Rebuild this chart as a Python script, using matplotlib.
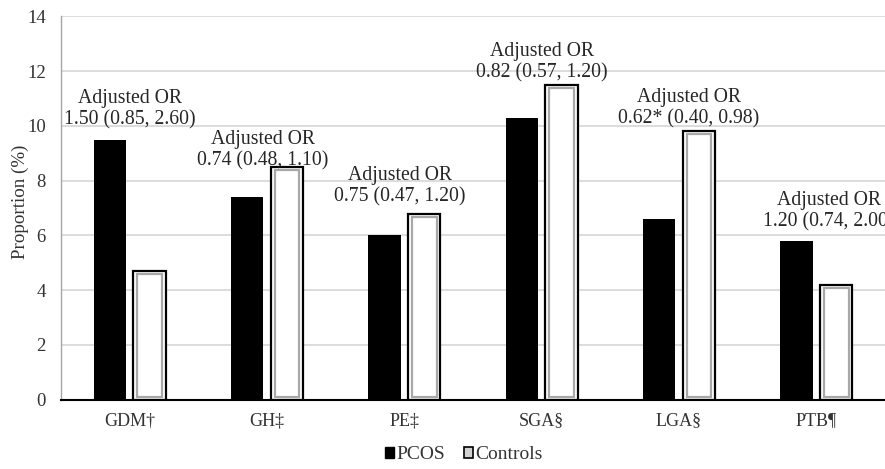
import matplotlib
matplotlib.use("Agg")
import matplotlib.pyplot as plt
from matplotlib.patches import Patch
import numpy as np

categories = ["GDM\u2020", "GH\u2021", "PE\u2021", "SGA\u00a7", "LGA\u00a7", "PTB\u00b6"]
pcos = [9.5, 7.4, 6.0, 10.3, 6.6, 5.8]
controls = [4.7, 8.5, 6.8, 11.5, 9.8, 4.2]
or_labels = [
    "1.50 (0.85, 2.60)",
    "0.74 (0.48, 1.10)",
    "0.75 (0.47, 1.20)",
    "0.82 (0.57, 1.20)",
    "0.62* (0.40, 0.98)",
    "1.20 (0.74, 2.00)",
]
y_ticks = [0, 2, 4, 6, 8, 10, 12, 14]

# annotation placement (layout, not data)
ann_x = [0.0, 0.97, 1.97, 3.0, 4.07, 5.09]
ann_y = [10.6, 9.1, 7.8, 12.32, 10.65, 6.89]

plt.rcParams["font.family"] = ["Liberation Serif", "DejaVu Serif"]

fig = plt.figure(figsize=(8.85, 4.69), dpi=100)
ax = fig.add_axes([61 / 885, 69.4 / 469, 824 / 885, 383.1 / 469])

x = np.arange(len(categories))
w = 0.235
off = 0.145

ax.bar(x - off, pcos, width=w, color="black", edgecolor="none", zorder=3)
ax.bar(x + off, controls, width=w, color="white", edgecolor="black",
       linewidth=1.6, zorder=3)
# bevel effect inside controls bars
ix, iy = 0.028, 0.11
ctrl = np.array(controls)
ax.bar(x + off, ctrl - 2 * iy, bottom=iy, width=w - 2 * ix, color="none",
       edgecolor="#a8a8a8", linewidth=1.6, zorder=4)

for xi, yi, lab in zip(ann_x, ann_y, or_labels):
    ax.text(xi, yi, "Adjusted OR\n" + lab, ha="center", va="center",
            fontsize=14.2, color="#262626", linespacing=1.15, zorder=5,
            clip_on=False)

ax.set_xlim(-0.5, len(categories) - 0.5)
ax.set_ylim(0, 14)
ax.set_yticks(y_ticks)
ax.set_xticks(x)
ax.set_xticklabels(categories)
ax.tick_params(axis="y", length=0, pad=11, labelsize=13.5, labelcolor="#333333")
ax.tick_params(axis="x", length=0, pad=9, labelsize=13, labelcolor="#333333")

ax.yaxis.grid(True, color="#d9d9d9", linewidth=1.3, zorder=0)
ax.set_axisbelow(True)
for s in ["top", "right"]:
    ax.spines[s].set_visible(False)
ax.spines["left"].set_color("#a6a6a6")
ax.spines["left"].set_linewidth(1.0)
ax.spines["bottom"].set_color("black")
ax.spines["bottom"].set_linewidth(1.5)
ax.spines["bottom"].set_zorder(6)

ax.set_ylabel("Proportion (%)", fontsize=13.7, color="#333333")
ax.yaxis.set_label_coords(-0.039, 0.517)

handles = [Patch(facecolor="black", edgecolor="black", label="PCOS"),
           Patch(facecolor="#d0d0d0", edgecolor="black", linewidth=1.2, label="Controls")]
fig.legend(handles=handles, loc="center", bbox_to_anchor=(0.524, 0.03), ncol=2,
           frameon=False, handlelength=0.45, handleheight=0.45, handletextpad=0.12,
           columnspacing=1.0, fontsize=14, labelcolor="#333333")

fig.savefig("out.png", dpi=100)
